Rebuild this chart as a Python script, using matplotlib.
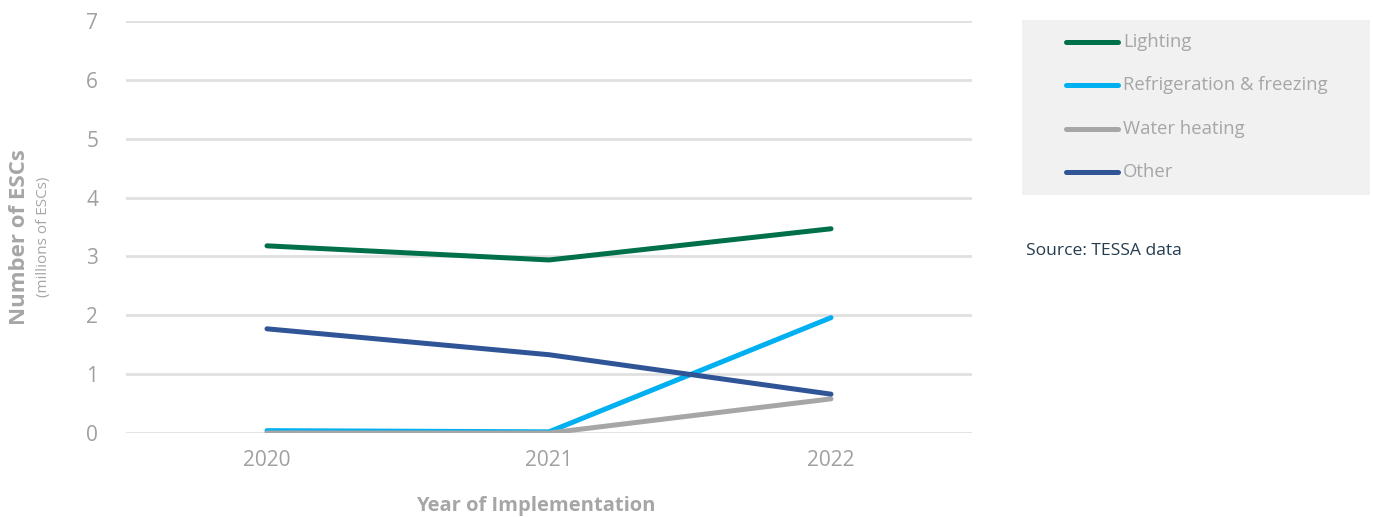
import matplotlib
matplotlib.use("Agg")
import matplotlib.pyplot as plt
from matplotlib.patches import Rectangle
from matplotlib.lines import Line2D

plt.rcParams['font.family'] = ['Open Sans', 'DejaVu Sans']

years = ["2020", "2021", "2022"]
series_names = ["Lighting", "Refrigeration & freezing", "Water heating", "Other"]
lighting = [3.18, 2.94, 3.47]
refrigeration = [0.04, 0.02, 1.96]
water_heating = [0.0, 0.0, 0.58]
other = [1.77, 1.33, 0.66]
colors = ["#00704a", "#00b0f0", "#a6a6a6", "#2f5597"]
y_ticks = [0, 1, 2, 3, 4, 5, 6, 7]

W, H = 1373, 517
fig = plt.figure(figsize=(W / 100, H / 100), dpi=100)
ax = fig.add_axes([126 / W, (H - 433) / H, (972 - 126) / W, (433 - 21) / H])

x = list(range(len(years)))
values = [lighting, refrigeration, water_heating, other]
draw_order = [2, 1, 3, 0]
for i in draw_order:
    ax.plot(x, values[i], color=colors[i], lw=3.6, solid_capstyle='round',
            solid_joinstyle='round', zorder=3 + i)

ax.set_xlim(-0.5, 2.5)
ax.set_ylim(0, 7)
ax.set_yticks(y_ticks)
ax.set_yticklabels([str(t) for t in y_ticks])
ax.set_xticks(x)
ax.set_xticklabels(years)
ax.grid(axis='y', color='#e0e0e0', lw=2)
ax.set_axisbelow(True)
for s in ax.spines.values():
    s.set_visible(False)
ax.tick_params(axis='both', length=0, labelsize=15, colors='#a0a0a0')
ax.tick_params(axis='y', pad=20)
ax.tick_params(axis='x', pad=12)

fig.text(536 / W, 1 - 506 / H, "Year of Implementation", ha='center', va='center',
         fontsize=14.5, fontweight='bold', color='#a6a6a6')
fig.text(20 / W, 1 - 237 / H, "Number of ESCs", ha='center', va='center',
         rotation=90, fontsize=16, fontweight='bold', color='#a6a6a6')
fig.text(44 / W, 1 - 237 / H, "(millions of ESCs)", ha='center', va='center',
         rotation=90, fontsize=11, color='#a6a6a6')

# legend panel
fig.patches.append(Rectangle((1022 / W, 1 - 195 / H), (1370 - 1022) / W, (195 - 20) / H,
                             transform=fig.transFigure, facecolor='#f1f1f1',
                             edgecolor='none', zorder=0))
rows = [42, 85, 129, 172]
for name, c, ry in zip(series_names, colors, rows):
    yy = 1 - ry / H
    fig.lines.append(Line2D([1066 / W, 1118 / W], [yy, yy], transform=fig.transFigure,
                            color=c, lw=3.6, solid_capstyle='round'))
    fig.text(1123 / W, yy, name, ha='left', va='center', fontsize=13.3, color='#a6a6a6')

fig.text(1026 / W, 1 - 251 / H, "Source: TESSA data", ha='left', va='center',
         fontsize=12.6, color='#243c4f')

fig.savefig("out.png", dpi=100)
